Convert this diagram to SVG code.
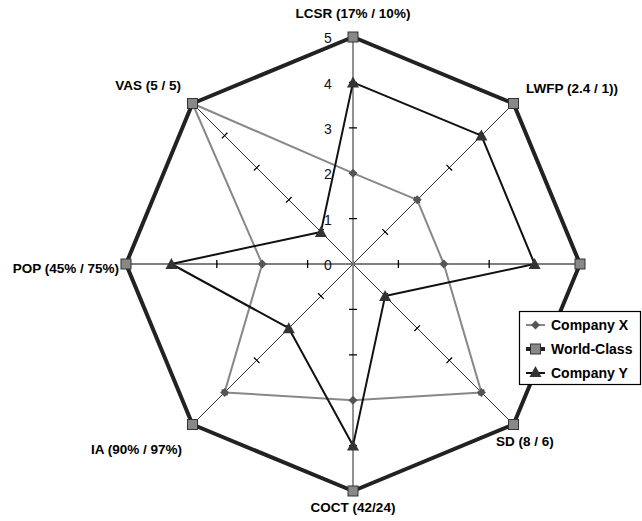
<svg xmlns="http://www.w3.org/2000/svg" width="642" height="521" viewBox="0 0 642 521">
  <style>
    .lbl { font-family: "Liberation Sans", Arial, sans-serif; font-weight: bold; font-size: 13.5px; fill: #000; }
    .leg { font-family: "Liberation Sans", Arial, sans-serif; font-weight: bold; font-size: 14px; fill: #000; }
    .num { font-family: "Liberation Sans", Arial, sans-serif; font-size: 14px; fill: #111; }
    .axis-v { stroke: #777; stroke-width: 1.6; fill: none; }
    .axis-h { stroke: #000; stroke-width: 1.2; fill: none; }
    .axis-d { stroke: #333; stroke-width: 1; fill: none; }
    .tick { stroke: #000; stroke-width: 1.3; fill: none; }
    .ser-x { stroke: #888; stroke-width: 2; fill: none; stroke-linejoin: round; }
    .ser-w { stroke: #222; stroke-width: 4; fill: none; stroke-linejoin: round; }
    .ser-y { stroke: #111; stroke-width: 2; fill: none; stroke-linejoin: round; }
  </style>
  <defs>
    <path id="dia" d="M0,-4.5 L4.5,0 L0,4.5 L-4.5,0 Z" fill="#555"/>
    <rect id="sq" x="-5" y="-5" width="10" height="10" fill="#888" stroke="#333" stroke-width="1"/>
    <path id="tri" d="M0,-6 L6,5 L-6,5 Z" fill="#333"/>
  </defs>

  <rect width="642" height="521" fill="#fff"/>

  <!-- radial axes and unit ticks -->
  <g id="axes">
    <line class="axis-d" x1="192.5" y1="103.5" x2="513.5" y2="424.5"/>
    <line class="axis-d" x1="513.5" y1="103.5" x2="192.5" y2="424.5"/>
    <line class="axis-h" x1="126" y1="264" x2="580" y2="264"/>
    <line class="axis-v" x1="353" y1="37" x2="353" y2="491"/>
    <path class="tick" d="M349,218.6H357 M349,173.2H357 M349,127.8H357 M349,82.4H357
                          M349,309.4H357 M349,354.8H357 M349,400.2H357 M349,445.6H357
                          M398.4,260V268 M443.8,260V268 M489.2,260V268 M534.6,260V268
                          M307.6,260V268 M262.2,260V268 M216.8,260V268 M171.4,260V268"/>
    <path class="tick" stroke-width="1"
          d="M382.3,229.1l5.6,5.6 M414.4,197l5.6,5.6 M446.5,164.9l5.6,5.6 M478.6,132.8l5.6,5.6
             M318.1,293.3l5.6,5.6 M286,325.4l5.6,5.6 M253.9,357.5l5.6,5.6 M221.8,389.6l5.6,5.6
             M323.7,229.1l-5.6,5.6 M291.6,197l-5.6,5.6 M259.5,164.9l-5.6,5.6 M227.4,132.8l-5.6,5.6
             M387.9,293.3l-5.6,5.6 M420,325.4l-5.6,5.6 M452.1,357.5l-5.6,5.6 M484.2,389.6l-5.6,5.6"/>
    <text class="num" x="324" y="270">0</text>
    <text class="num" x="324" y="225">1</text>
    <text class="num" x="324" y="179">2</text>
    <text class="num" x="324" y="134">3</text>
    <text class="num" x="324" y="89">4</text>
    <text class="num" x="324" y="43">5</text>
  </g>

  <!-- data series -->
  <g id="series-company-x">
    <polygon class="ser-x" points="353,173.2 417.2,199.8 443.8,264 481.4,392.4 353,400.2 224.6,392.4 262.2,264 192.5,103.5"/>
    <use href="#dia" x="353" y="173.2"/><use href="#dia" x="417.2" y="199.8"/>
    <use href="#dia" x="443.8" y="264"/><use href="#dia" x="481.4" y="392.4"/>
    <use href="#dia" x="353" y="400.2"/><use href="#dia" x="224.6" y="392.4"/>
    <use href="#dia" x="262.2" y="264"/><use href="#dia" x="192.5" y="103.5"/>
  </g>

  <g id="series-world-class">
    <polygon class="ser-w" points="353,37 513.5,103.5 580,264 513.5,424.5 353,491 192.5,424.5 126,264 192.5,103.5"/>
    <use href="#sq" x="353" y="37"/><use href="#sq" x="513.5" y="103.5"/>
    <use href="#sq" x="580" y="264"/><use href="#sq" x="513.5" y="424.5"/>
    <use href="#sq" x="353" y="491"/><use href="#sq" x="192.5" y="424.5"/>
    <use href="#sq" x="126" y="264"/><use href="#sq" x="192.5" y="103.5"/>
  </g>

  <g id="series-company-y">
    <polygon class="ser-y" points="353,82.4 481.4,135.6 534.6,264 385.1,296.1 353,445.6 288.8,328.2 171.4,264 320.9,231.9"/>
    <use href="#tri" x="353" y="82.4"/><use href="#tri" x="481.4" y="135.6"/>
    <use href="#tri" x="534.6" y="264"/><use href="#tri" x="385.1" y="296.1"/>
    <use href="#tri" x="353" y="445.6"/><use href="#tri" x="288.8" y="328.2" fill="#666"/>
    <use href="#tri" x="171.4" y="264"/><use href="#tri" x="320.9" y="231.9"/>
  </g>

  <!-- axis captions -->
  <g id="captions">
    <text class="lbl" x="353" y="18" text-anchor="middle">LCSR (17% / 10%)</text>
    <text class="lbl" x="526" y="93">LWFP (2.4 / 1))</text>
    <text class="lbl" x="181" y="90" text-anchor="end">VAS (5 / 5)</text>
    <text class="lbl" x="119" y="273" text-anchor="end">POP (45% / 75%)</text>
    <text class="lbl" x="182" y="454" text-anchor="end">IA (90% / 97%)</text>
    <text class="lbl" x="496" y="446">SD (8 / 6)</text>
    <text class="lbl" x="353" y="512" text-anchor="middle">COCT (42/24)</text>
  </g>

  <!-- legend -->
  <g id="legend">
    <rect x="519.5" y="311.5" width="121" height="73" fill="#fff" stroke="#000" stroke-width="1.2"/>
    <line x1="526" y1="325" x2="545" y2="325" stroke="#888" stroke-width="2"/>
    <use href="#dia" x="535.5" y="325"/>
    <text class="leg" x="551" y="330">Company X</text>
    <line x1="526" y1="349" x2="545" y2="349" stroke="#222" stroke-width="4"/>
    <use href="#sq" x="535.5" y="349"/>
    <text class="leg" x="551" y="354">World-Class</text>
    <line x1="526" y1="373" x2="545" y2="373" stroke="#111" stroke-width="2"/>
    <use href="#tri" x="535.5" y="372"/>
    <text class="leg" x="551" y="378">Company Y</text>
  </g>
</svg>
